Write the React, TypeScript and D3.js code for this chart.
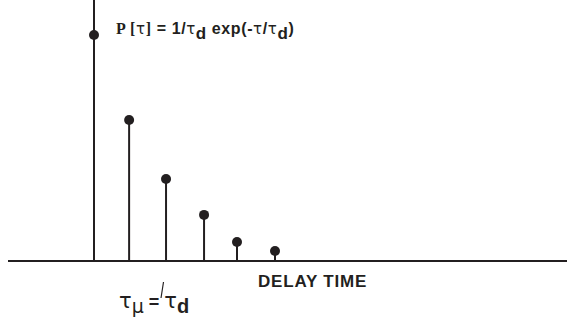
import React from 'react';
import * as d3 from 'd3';

const delays = [0, 0.97, 1.99, 3.04, 3.95, 5];
const probs = [1, 0.624, 0.363, 0.204, 0.084, 0.044];
const xLabel = 'DELAY TIME';

const width = 567;
const height = 328;
const ink = '#231f20';
const sans = 'Liberation Sans, Arial, sans-serif';

export default function App() {
  const x = d3.scaleLinear().domain([0, 5]).range([94, 275]);
  const y = d3.scaleLinear().domain([0, 1]).range([261, 35]);
  const base = y(0);

  return (
    <svg width={width} height={height} style={{ position: 'absolute', left: 0, top: 0 }}>
      <rect width={width} height={height} fill='#fff' />
      {/* axes */}
      <line x1={8} x2={567} y1={base} y2={base} stroke={ink} strokeWidth={2} />
      <line x1={x(0)} x2={x(0)} y1={0} y2={base} stroke={ink} strokeWidth={2} />
      {delays.map((d, i) => (
        <g key={i}>
          <line x1={x(d)} x2={x(d)} y1={base} y2={y(probs[i])} stroke={ink} strokeWidth={2} />
          <circle cx={x(d)} cy={y(probs[i])} r={5} fill={ink} />
        </g>
      ))}
      {/* formula */}
      <text x={116} y={34} fill={ink} fontWeight='bold' fontSize={16} letterSpacing={0.6} fontFamily={sans}>
        <tspan fontFamily='Liberation Serif, Times New Roman, serif'>P [</tspan>
        <tspan fontWeight='normal' fontFamily='DejaVu Sans, sans-serif' fontSize={15}>τ</tspan>
        <tspan fontFamily='Liberation Serif, Times New Roman, serif'>]</tspan>
        <tspan> = 1/</tspan>
        <tspan fontWeight='normal' fontFamily='DejaVu Sans, sans-serif' fontSize={15}>τ</tspan>
        <tspan dy={5} fontSize={17}>d</tspan>
        <tspan dy={-5}> exp(-</tspan>
        <tspan fontWeight='normal' fontFamily='DejaVu Sans, sans-serif' fontSize={15}>τ</tspan>
        <tspan>/</tspan>
        <tspan fontWeight='normal' fontFamily='DejaVu Sans, sans-serif' fontSize={15}>τ</tspan>
        <tspan dy={5} fontSize={17}>d</tspan>
        <tspan dy={-5}>)</tspan>
      </text>
      <text x={258} y={287} fill={ink} fontWeight='bold' fontSize={17} letterSpacing={0.8} fontFamily={sans}>
        {xLabel}
      </text>
      {/* tau_mu = tau_d */}
      <text x={119} y={308} fill={ink} fontSize={21} fontFamily='DejaVu Sans, sans-serif'>
        <tspan>τ</tspan>
        <tspan dy={5} fontSize={19}>μ</tspan>
        <tspan dy={-5} fontWeight='bold' fontSize={18} fontFamily={sans}> = </tspan>
        <tspan>τ</tspan>
        <tspan dy={5} fontWeight='bold' fontSize={20} fontFamily={sans}>d</tspan>
      </text>
      <line x1={161} x2={163.5} y1={298} y2={282} stroke={ink} strokeWidth={1.2} />
    </svg>
  );
}
